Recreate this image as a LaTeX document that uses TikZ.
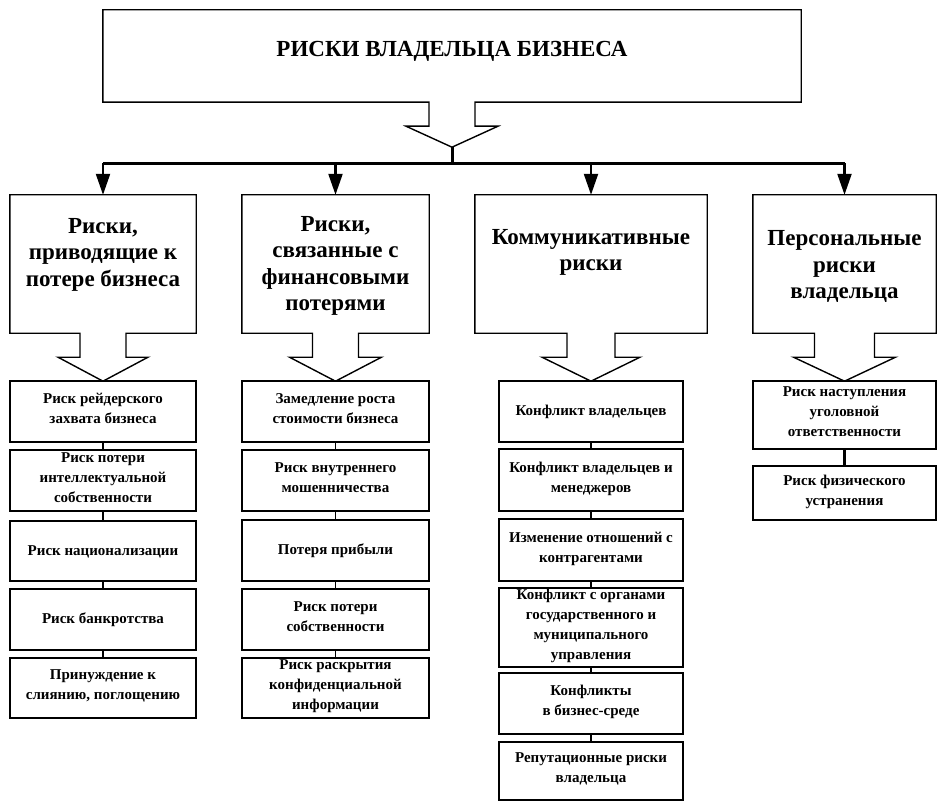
\documentclass[tikz,border=0pt]{standalone}
\usepackage{fontspec}
\setmainfont{Liberation Serif}
\usetikzlibrary{arrows.meta}

\tikzset{
  frame/.style={line width=1.4pt, line join=miter},
  shell/.style={draw=none, rectangle, inner sep=0pt},
  headtext/.style={font=\bfseries\fontsize{23}{26.5}\selectfont, align=center, inner sep=0pt,
    execute at begin node=\strut, execute at end node=\strut},
  titletext/.style={font=\bfseries\fontsize{23}{27}\selectfont, inner sep=0pt, anchor=base},
  item/.style={draw, line width=1.3pt, rectangle, inner sep=0pt, align=center,
    font=\bfseries\fontsize{15}{20}\selectfont,
    execute at begin node=\strut, execute at end node=\strut},
  link/.style={line width=1.3pt},
  boldlink/.style={line width=2.4pt},
  bus/.style={line width=3pt},
  down/.style={line width=2.2pt, -{Triangle[width=14pt,length=21pt]}},
}

% box outline that opens into a hollow block arrow below it
% #1 node, #2 stem half width, #3 head half width, #4 stem length, #5 head length
\newcommand{\dropbox}[5]{%
  \draw[frame] (#1.south west) -- (#1.north west) -- (#1.north east) -- (#1.south east)
    -- ([xshift=#2pt]#1.south) -- ++(0,#4) -- ++(#3-#2,0) -- ++(-#3,#5)
    -- ++(-#3,-#5) -- ++(#3-#2,0) -- ([xshift=-#2pt]#1.south) -- cycle;}

\begin{document}
\begin{tikzpicture}[x=1pt,y=-1pt]
\useasboundingbox (0,0) rectangle (937,802);

% ---- root ----
\node[shell, minimum width=698pt, minimum height=92pt] (root) at (452,56) {};
\dropbox{root}{23}{46}{24}{21}
\node[titletext] (roottext) at (452,57) {РИСКИ ВЛАДЕЛЬЦА БИЗНЕСА};
\coordinate (roottip) at ([yshift=-45pt]root.south);
\coordinate (hub) at ([yshift=-16pt]roottip);

% ---- four groups ----
\node[shell, minimum width=186pt, minimum height=138pt] (g1) at (103,264) {};
\node[shell, minimum width=187pt, minimum height=138pt] (g2) at (335.5,264) {};
\node[shell, minimum width=232pt, minimum height=138pt] (g3) at (591,264) {};
\node[shell, minimum width=183pt, minimum height=138pt] (g4) at (844.5,264) {};
\dropbox{g1}{23}{45}{24}{24}
\dropbox{g2}{23}{46}{24}{24}
\dropbox{g3}{24}{49}{24}{24}
\dropbox{g4}{30}{51}{24}{24}

\node[headtext] (g1text) at (103,256) {Риски,\\приводящие к\\потере бизнеса};
\node[headtext] (g2text) at (335.5,267.5) {Риски,\\связанные с\\финансовыми\\потерями};
\node[headtext] (g3text) at (591,254) {Коммуникативные\\риски};
\node[headtext] (g4text) at (844.5,268.5) {Персональные\\риски\\владельца};

% ---- distribution bus ----
\draw[bus] (roottip) -- (hub);
\draw[bus] (g1.north |- hub) -- (g4.north |- hub);
\foreach \g in {g1,g2,g3,g4}
  \draw[down] (\g.north |- hub) -- (\g.north);

% ---- column 1 ----
\node[item, minimum width=186pt, minimum height=61pt] (a1) at (103,411.5) {Риск рейдерского\\захвата бизнеса};
\node[item, minimum width=186pt, minimum height=61pt] (a2) at (103,480.5) {Риск потери\\интеллектуальной\\собственности};
\node[item, minimum width=186pt, minimum height=60pt] (a3) at (103,551) {Риск национализации};
\node[item, minimum width=186pt, minimum height=61pt] (a4) at (103,619.5) {Риск банкротства};
\node[item, minimum width=186pt, minimum height=60pt] (a5) at (103,688) {Принуждение к\\слиянию, поглощению};

% ---- column 2 ----
\node[item, minimum width=187pt, minimum height=61pt] (b1) at (335.5,411.5) {Замедление роста\\стоимости бизнеса};
\node[item, minimum width=187pt, minimum height=61pt] (b2) at (335.5,480.5) {Риск внутреннего\\мошенничества};
\node[item, minimum width=187pt, minimum height=61pt] (b3) at (335.5,550.5) {Потеря прибыли};
\node[item, minimum width=187pt, minimum height=61pt] (b4) at (335.5,619.5) {Риск потери\\собственности};
\node[item, minimum width=187pt, minimum height=60pt] (b5) at (335.5,688) {Риск раскрытия\\конфиденциальной\\информации};

% ---- column 3 ----
\node[item, minimum width=184pt, minimum height=61pt] (c1) at (591,411.5) {Конфликт владельцев};
\node[item, minimum width=184pt, minimum height=62pt] (c2) at (591,480) {Конфликт владельцев и\\менеджеров};
\node[item, minimum width=184pt, minimum height=62pt] (c3) at (591,550) {Изменение отношений с\\контрагентами};
\node[item, minimum width=184pt, minimum height=79pt] (c4) at (591,627.5) {Конфликт с органами\\государственного и\\муниципального\\управления};
\node[item, minimum width=184pt, minimum height=61pt] (c5) at (591,703.5) {Конфликты\\в бизнес-среде};
\node[item, minimum width=184pt, minimum height=58pt] (c6) at (591,771) {Репутационные риски\\владельца};

% ---- column 4 ----
\node[item, minimum width=183pt, minimum height=68pt] (d1) at (844.5,415) {Риск наступления\\уголовной\\ответственности};
\node[item, minimum width=183pt, minimum height=54pt] (d2) at (844.5,493) {Риск физического\\устранения};

% ---- links inside columns ----
\foreach \u/\v in {a1/a2,a2/a3,a3/a4,a4/a5,b1/b2,b2/b3,b3/b4,b4/b5,c1/c2,c2/c3,c3/c4,c4/c5,c5/c6}
  \draw[link] (\u.south) -- (\v.north);
\draw[boldlink] (d1.south) -- (d2.north);
\end{tikzpicture}
\end{document}
